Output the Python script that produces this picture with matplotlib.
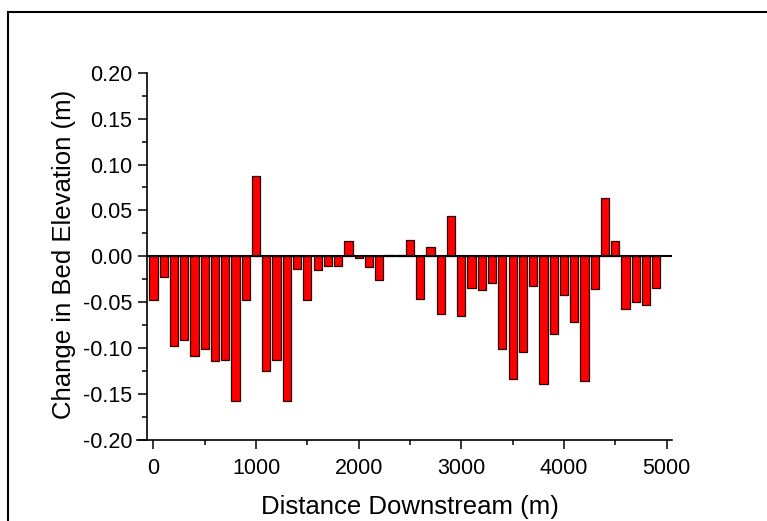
import matplotlib
matplotlib.use("Agg")
import matplotlib.pyplot as plt
from matplotlib.patches import Rectangle
from matplotlib.ticker import MultipleLocator, FormatStrFormatter

plt.rcParams["font.family"] = ["Liberation Sans", "DejaVu Sans"]
plt.rcParams["axes.unicode_minus"] = False

# Distance downstream of each reach (m) and change in bed elevation (m)
distance = list(range(0, 5000, 100))
change = [
    -0.047, -0.022, -0.098, -0.091, -0.108, -0.101, -0.114, -0.113, -0.157, -0.047,
    0.087, -0.125, -0.113, -0.157, -0.014, -0.047, -0.015, -0.011, -0.011, 0.017,
    -0.002, -0.012, -0.026, 0.001, 0.001, 0.018, -0.046, 0.010, -0.063, 0.044,
    -0.065, -0.034, -0.037, -0.029, -0.101, -0.134, -0.104, -0.032, -0.139, -0.085,
    -0.042, -0.071, -0.136, -0.036, 0.064, 0.017, -0.057, -0.050, -0.053, -0.034,
]
x_ticks = [0, 1000, 2000, 3000, 4000, 5000]
y_ticks = [-0.20, -0.15, -0.10, -0.05, 0.00, 0.05, 0.10, 0.15, 0.20]

W, H = 767, 521
fig = plt.figure(figsize=(W / 100, H / 100), dpi=100)
ax = fig.add_axes([137 / W, 1 - 440 / H, (671.7 - 137) / W, (440 - 72.7) / H])

ax.bar(distance, change, width=80, color="#ff0000", edgecolor="#2a0000",
       linewidth=0.9, zorder=2)

y_axis_x = -65
ax.hlines(0, y_axis_x, 5050, color="black", linewidth=1.5, zorder=3)

ax.set_xlim(-160, 5050)
ax.set_ylim(-0.20, 0.20)
ax.set_xticks(x_ticks)
ax.set_yticks(y_ticks)
ax.xaxis.set_minor_locator(MultipleLocator(500))
ax.yaxis.set_minor_locator(MultipleLocator(0.025))
ax.yaxis.set_major_formatter(FormatStrFormatter("%.2f"))

for side in ("top", "right"):
    ax.spines[side].set_visible(False)
ax.spines["left"].set_position(("data", y_axis_x))
for side in ("left", "bottom"):
    ax.spines[side].set_linewidth(1.2)

ax.tick_params(which="major", direction="out", length=6.3, width=1.1,
               labelsize=15.5)
ax.tick_params(axis="y", which="major", pad=4.0)
ax.tick_params(axis="x", which="major", pad=6.5)
ax.tick_params(which="minor", direction="out", length=3.5, width=1.1)

ax.set_xlabel("Distance Downstream (m)", fontsize=18.5)
ax.xaxis.label.set_va("baseline")
ax.xaxis.set_label_coords((410 - 137) / (671.7 - 137), (440 - 514) / (440 - 72.7))
ax.set_ylabel("Change in Bed Elevation (m)", fontsize=18.5)
ax.yaxis.label.set_va("center")
ax.yaxis.set_label_coords((64 - 137) / (671.7 - 137), (440 - 254) / (440 - 72.7))

# Outer frame around the figure
fig.patches.append(Rectangle((7.5 / W, -0.5), 2.0, 1.5 - 11.5 / H,
                             transform=fig.transFigure, fill=False,
                             edgecolor="black", linewidth=1.5))

fig.savefig("out.png", dpi=100)
